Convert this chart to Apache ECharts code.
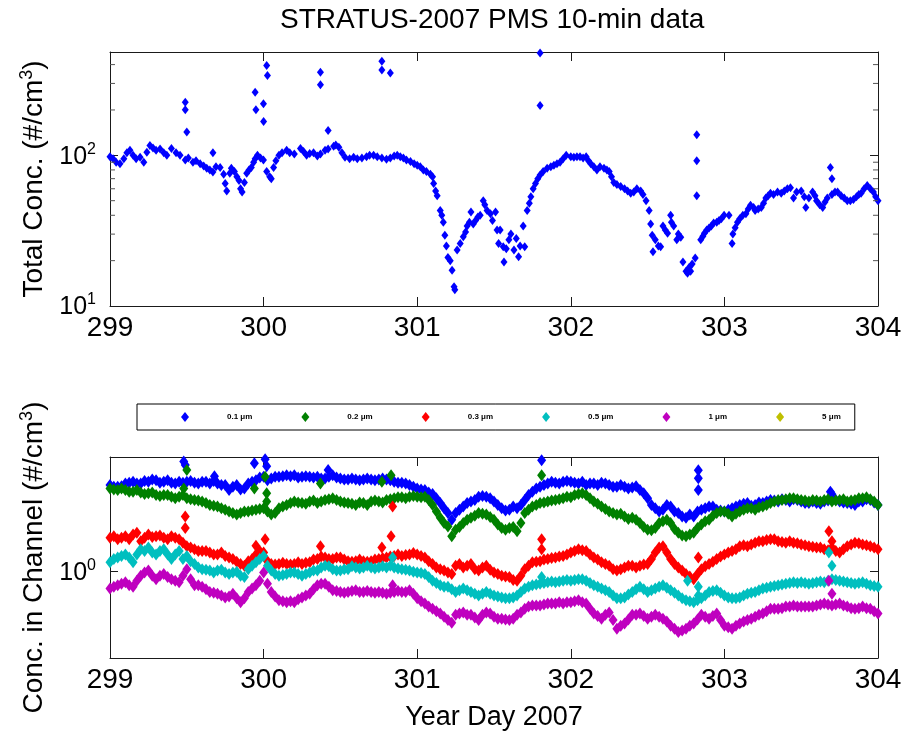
<!DOCTYPE html>
<html>
<head>
<meta charset="utf-8">
<title>STRATUS-2007 PMS 10-min data</title>
<script src="https://cdn.jsdelivr.net/npm/echarts@6/dist/echarts.min.js"></script>
<style>
    html, body {margin: 0; padding: 0; background: #fff;}
    #main {width: 905px; height: 732px;}
</style>
</head>
<body>
<div id="main"></div>
<script>
/* 上图 - total concentration, main band */
const topDays = [
    299.00, 299.02, 299.04, 299.065, 299.09, 299.11, 299.13, 299.15, 299.17, 299.196,
    299.22, 299.24, 299.26, 299.28, 299.30, 299.326, 299.35, 299.37, 299.40, 299.43,
    299.456, 299.49, 299.51, 299.54, 299.56, 299.587, 299.61, 299.63, 299.65, 299.67,
    299.69, 299.717, 299.74, 299.75, 299.76, 299.78, 299.79, 299.81, 299.826, 299.84,
    299.85, 299.86, 299.875, 299.89, 299.905, 299.92, 299.935, 299.945, 299.96, 299.98,
    299.999, 300.02, 300.04, 300.05, 300.065, 300.08, 300.10, 300.12, 300.15, 300.17,
    300.20, 300.24, 300.26, 300.28, 300.30, 300.325, 300.35, 300.37, 300.40, 300.42,
    300.456, 300.47, 300.49, 300.51, 300.53, 300.56, 300.586, 300.61, 300.64, 300.67,
    300.69, 300.716, 300.74, 300.77, 300.80, 300.825, 300.85, 300.87, 300.89, 300.91,
    300.93, 300.956, 300.98, 301.00, 301.02, 301.04, 301.06, 301.086, 301.10, 301.107,
    301.12, 301.13, 301.15, 301.16, 301.17, 301.18, 301.19, 301.20, 301.215, 301.227,
    301.24, 301.245, 301.26, 301.28, 301.30, 301.315, 301.325, 301.34, 301.35, 301.365,
    301.38, 301.395, 301.41, 301.43, 301.44, 301.455, 301.477, 301.49, 301.51, 301.52,
    301.53, 301.54, 301.56, 301.565, 301.58, 301.597, 301.61, 301.63, 301.645, 301.66,
    301.67, 301.69, 301.70, 301.716, 301.73, 301.74, 301.755, 301.77, 301.785, 301.80,
    301.82, 301.846, 301.87, 301.89, 301.91, 301.93, 301.95, 301.97, 302.00, 302.02,
    302.04, 302.06, 302.08, 302.10, 302.115, 302.13, 302.15, 302.17, 302.19, 302.216,
    302.235, 302.25, 302.265, 302.28, 302.30, 302.325, 302.35, 302.37, 302.39, 302.41,
    302.43, 302.455, 302.47, 302.49, 302.51, 302.52, 302.53, 302.535, 302.55, 302.57,
    302.585, 302.60, 302.615, 302.63, 302.65, 302.655, 302.67, 302.69, 302.70, 302.716,
    302.73, 302.75, 302.76, 302.77, 302.78, 302.79, 302.81, 302.846, 302.86, 302.87,
    302.885, 302.90, 302.915, 302.93, 302.95, 302.965, 302.98, 302.998, 303.03, 303.05,
    303.055, 303.07, 303.085, 303.10, 303.12, 303.14, 303.155, 303.17, 303.19, 303.20,
    303.22, 303.24, 303.255, 303.27, 303.285, 303.30, 303.32, 303.346, 303.37, 303.39,
    303.41, 303.43, 303.45, 303.47, 303.50, 303.52, 303.53, 303.55, 303.574, 303.59,
    303.60, 303.62, 303.64, 303.655, 303.67, 303.70, 303.72, 303.737, 303.76, 303.78,
    303.80, 303.82, 303.84, 303.86, 303.875, 303.89, 303.91, 303.93, 303.95, 303.97,
    303.985, 304.00
]
const topConc = [
    98, 95, 90, 88, 95, 104, 108, 100, 95, 97,
    90, 105, 116, 112, 108, 110, 104, 100, 111, 104,
    100, 93, 96, 90, 92, 88, 85, 82, 80, 77.6,
    84, 83, 75, 65, 58, 76, 82, 78, 72, 68,
    60, 57, 66, 76, 80, 83, 90, 95, 100, 96,
    93, 78, 72, 70, 83, 92, 100, 104, 108, 104,
    102, 111, 106, 100, 103, 104, 99, 102, 108, 110,
    115, 117, 113, 104, 97, 95, 97, 95, 96, 98,
    100, 100, 98, 96, 94, 96, 99, 100, 98, 96,
    93, 91, 88, 86, 84, 80, 78, 75, 72, 65,
    58, 54, 43, 40, 36, 29.5, 25, 21, 20, 17.3,
    13.4, 12.8, 23.5, 26, 28.8, 31, 34, 36, 42, 35,
    37, 39, 40, 50, 47, 43, 41, 37, 42, 32,
    26, 32, 24.7, 19.6, 24, 27.5, 30, 23.5, 28, 21.2,
    25, 34, 24.7, 43, 48, 53, 60, 65, 70, 74,
    78, 82, 84, 86, 88, 90, 95, 100, 98, 97,
    98, 98, 96, 98, 92, 88, 84, 80, 84, 82,
    80, 78, 72, 66, 64, 62, 60, 58, 56, 57,
    60, 58, 55, 50, 43, 35, 29.5, 22.9, 27.5, 25,
    24.7, 34, 32, 30.4, 40, 36, 34, 27.5, 30, 28.6,
    19.6, 17, 16.5, 18, 17, 19, 20.8, 27.5, 29, 30.4,
    32, 32.9, 34, 35.5, 36, 37, 38, 40, 40, 26,
    30, 33, 36, 38, 40, 41, 44, 46.6, 45, 43,
    44, 45, 48, 52, 54, 56, 55, 57, 56, 58,
    60, 61, 52, 57, 58, 53, 45, 52, 57, 54,
    50, 47, 45, 49, 52, 55, 57, 57, 54, 52,
    50, 50, 51, 53, 55, 56, 60, 63, 60, 57,
    53, 50
]
/* 上图 - isolated spikes */
const topSpikeDays = [299.49, 299.49, 299.50, 299.67, 299.945, 299.95, 299.999, 300.0, 300.02, 300.025,
    300.37, 300.37, 300.42, 300.77, 300.77, 300.825, 301.80, 301.80, 302.82, 302.82, 302.82, 303.69, 303.70]
const topSpikeConc = [225, 201, 143, 104, 262, 201, 220, 168, 394, 339,
    356, 294, 146, 421, 369, 352, 478, 214, 137, 92, 54, 83, 70]
const topMinorTicks = [20, 30, 40, 50, 60, 70, 80, 90, 200, 300, 400]

/* 下图 - concentration per channel, read every 0.05 day (299.00 ... 304.00) */
const chDays = Array.from({length: 101}, (v, i) => Math.round((299 + i * 0.05) * 1000) / 1000)
const ch01 = [
    3.87, 3.77, 3.97, 4.07, 3.97, 4.07, 4.18, 4.07, 4.01, 4.07,
    4.07, 4.01, 4.07, 3.97, 3.97, 3.87, 3.77, 3.61, 3.97, 4.18,
    4.40, 4.29, 4.40, 4.52, 4.52, 4.40, 4.40, 4.40, 4.29, 4.52,
    4.29, 4.22, 4.22, 4.22, 4.22, 4.22, 4.22, 4.07, 4.01, 3.87,
    3.67, 3.58, 3.37, 2.92, 2.50, 2.50, 2.77, 2.99, 3.23, 3.23,
    2.99, 2.70, 2.63, 2.70, 3.07, 3.49, 3.77, 3.97, 4.01, 4.07,
    4.07, 3.97, 3.87, 3.97, 4.01, 3.87, 3.77, 3.77, 3.72, 3.58,
    3.15, 2.70, 2.63, 2.77, 2.50, 2.32, 2.37, 2.63, 2.77, 2.63,
    2.56, 2.70, 2.84, 2.92, 2.84, 2.92, 3.07, 2.99, 3.07, 3.10,
    2.99, 2.92, 2.92, 2.99, 3.07, 2.99, 2.92, 2.84, 2.99, 3.07,
    2.84
]
const ch02 = [
    3.67, 3.58, 3.58, 3.49, 3.44, 3.40, 3.32, 3.32, 3.23, 3.23,
    3.15, 3.07, 2.99, 2.84, 2.77, 2.63, 2.50, 2.50, 2.56, 2.63,
    2.70, 2.44, 2.70, 2.84, 2.99, 2.92, 2.99, 2.92, 3.07, 3.15,
    2.99, 2.92, 2.84, 2.92, 2.99, 2.99, 3.07, 3.15, 3.20, 3.23,
    3.23, 3.23, 2.84, 2.32, 2.03, 1.93, 2.14, 2.32, 2.50, 2.44,
    2.25, 1.98, 1.98, 1.88, 2.50, 2.77, 2.92, 2.99, 3.07, 3.15,
    3.20, 3.37, 3.32, 2.99, 2.77, 2.56, 2.44, 2.37, 2.32, 2.14,
    1.93, 1.98, 2.20, 2.14, 1.84, 1.74, 1.84, 2.09, 2.25, 2.50,
    2.56, 2.37, 2.56, 2.70, 2.63, 2.77, 2.92, 3.07, 3.10, 3.15,
    3.07, 2.99, 3.04, 3.07, 2.99, 3.07, 2.99, 3.07, 3.15, 3.10,
    2.84
]
const ch03 = [
    1.70, 1.66, 1.74, 1.79, 1.61, 1.79, 1.74, 1.70, 1.74, 1.66,
    1.49, 1.42, 1.38, 1.35, 1.31, 1.28, 1.22, 1.13, 1.18, 1.31,
    1.35, 1.13, 1.13, 1.13, 1.13, 1.13, 1.16, 1.22, 1.25, 1.22,
    1.25, 1.18, 1.18, 1.18, 1.18, 1.22, 1.25, 1.28, 1.28, 1.31,
    1.31, 1.25, 1.13, 1.04, 0.99, 1.10, 1.07, 1.13, 1.02, 1.10,
    0.99, 0.94, 0.92, 0.87, 1.04, 1.16, 1.18, 1.22, 1.25, 1.28,
    1.35, 1.42, 1.38, 1.25, 1.16, 1.10, 1.02, 1.07, 1.10, 1.10,
    1.13, 1.35, 1.49, 1.22, 1.07, 0.965, 0.89, 1.04, 1.13, 1.22,
    1.31, 1.38, 1.49, 1.49, 1.57, 1.61, 1.66, 1.61, 1.57, 1.57,
    1.53, 1.49, 1.46, 1.42, 1.46, 1.35, 1.49, 1.57, 1.53, 1.49,
    1.42
]
const ch05 = [
    1.16, 1.25, 1.31, 1.16, 1.42, 1.46, 1.31, 1.42, 1.22, 1.38,
    1.28, 1.13, 1.04, 1.02, 1.02, 0.99, 0.99, 0.94, 1.04, 1.16,
    1.28, 1.02, 0.94, 0.965, 0.99, 0.94, 0.99, 1.02, 1.10, 1.04,
    1.02, 1.04, 1.07, 1.07, 1.07, 1.07, 1.07, 1.07, 1.04, 1.02,
    0.99, 0.965, 0.87, 0.81, 0.79, 0.73, 0.77, 0.73, 0.69, 0.73,
    0.69, 0.67, 0.66, 0.69, 0.77, 0.81, 0.83, 0.85, 0.85, 0.87,
    0.87, 0.89, 0.87, 0.81, 0.77, 0.73, 0.66, 0.67, 0.73, 0.79,
    0.73, 0.77, 0.81, 0.75, 0.69, 0.64, 0.62, 0.66, 0.73, 0.75,
    0.69, 0.66, 0.67, 0.71, 0.73, 0.77, 0.79, 0.81, 0.83, 0.85,
    0.85, 0.83, 0.85, 0.85, 0.89, 0.87, 0.85, 0.83, 0.85, 0.81,
    0.79
]
const ch1 = [
    0.77, 0.81, 0.85, 0.79, 0.94, 1.02, 0.89, 0.965, 0.89, 0.85,
    1.04, 0.81, 0.79, 0.73, 0.71, 0.67, 0.71, 0.62, 0.73, 0.81,
    0.99, 0.73, 0.64, 0.62, 0.62, 0.67, 0.71, 0.81, 0.83, 0.75,
    0.73, 0.73, 0.75, 0.73, 0.73, 0.73, 0.71, 0.73, 0.73, 0.75,
    0.66, 0.61, 0.56, 0.52, 0.47, 0.51, 0.53, 0.51, 0.47, 0.53,
    0.495, 0.48, 0.47, 0.51, 0.56, 0.59, 0.59, 0.61, 0.61, 0.61,
    0.62, 0.64, 0.61, 0.52, 0.48, 0.53, 0.41, 0.446, 0.51, 0.52,
    0.48, 0.51, 0.48, 0.43, 0.39, 0.41, 0.446, 0.51, 0.48, 0.52,
    0.43, 0.41, 0.446, 0.47, 0.495, 0.52, 0.56, 0.56, 0.58, 0.59,
    0.58, 0.58, 0.59, 0.61, 0.59, 0.61, 0.58, 0.56, 0.58, 0.56,
    0.52
]
const ch5 = []

/* 下图 - second reading, between the points above (299.025 ... 303.975) */
const chDaysMid = Array.from({length: 100}, (v, i) => Math.round((299.025 + i * 0.05) * 1000) / 1000)
const ch01Mid = [
    3.77, 3.80, 4.01, 3.97, 4.13, 4.22, 4.01, 4.18, 3.97, 4.01,
    4.13, 3.97, 4.07, 4.13, 3.87, 3.58, 3.87, 3.67, 4.07, 4.36,
    4.18, 4.40, 4.45, 4.45, 4.36, 4.45, 4.36, 4.29, 4.40, 4.36,
    4.22, 4.29, 4.18, 4.29, 4.18, 4.29, 4.18, 4.01, 3.97, 3.77,
    3.61, 3.44, 3.15, 2.70, 2.25, 2.63, 2.92, 3.07, 3.26, 3.15,
    2.84, 2.60, 2.77, 2.84, 3.32, 3.67, 3.87, 4.07, 3.97, 4.13,
    4.01, 4.07, 3.97, 3.87, 3.97, 3.77, 3.87, 3.67, 3.80, 3.40,
    2.84, 2.56, 2.84, 2.56, 2.37, 2.44, 2.56, 2.70, 2.77, 2.60,
    2.63, 2.77, 2.89, 2.80, 2.95, 2.99, 3.04, 3.10, 2.99, 3.07,
    2.92, 2.99, 2.89, 3.04, 3.07, 2.95, 2.89, 2.99, 3.10, 2.95
]
const ch02Mid = [
    3.61, 3.67, 3.49, 3.58, 3.37, 3.44, 3.26, 3.32, 3.15, 3.32,
    3.10, 3.04, 2.92, 2.80, 2.70, 2.56, 2.44, 2.56, 2.60, 2.66,
    2.56, 2.50, 2.77, 2.92, 2.95, 2.89, 3.04, 2.99, 3.10, 3.07,
    2.95, 2.89, 2.95, 2.84, 3.04, 2.95, 3.10, 3.20, 3.15, 3.26,
    3.20, 3.07, 2.56, 2.14, 1.74, 2.01, 2.25, 2.40, 2.47, 2.35,
    2.09, 1.93, 2.01, 2.14, 2.63, 2.84, 2.95, 3.04, 3.10, 3.23,
    3.32, 3.40, 3.15, 2.89, 2.66, 2.50, 2.47, 2.28, 2.25, 2.01,
    1.91, 2.14, 2.25, 1.95, 1.76, 1.79, 1.98, 2.20, 2.40, 2.56,
    2.47, 2.47, 2.63, 2.70, 2.74, 2.84, 2.99, 3.07, 3.15, 3.10,
    3.04, 3.07, 2.99, 3.10, 3.04, 3.10, 3.04, 3.15, 3.20, 2.99
]
const ch03Mid = [
    1.74, 1.70, 1.66, 1.84, 1.70, 1.72, 1.76, 1.66, 1.70, 1.57,
    1.46, 1.38, 1.38, 1.31, 1.35, 1.25, 1.17, 1.10, 1.22, 1.38,
    1.18, 1.12, 1.15, 1.12, 1.16, 1.15, 1.21, 1.27, 1.22, 1.25,
    1.21, 1.17, 1.21, 1.17, 1.21, 1.24, 1.27, 1.31, 1.30, 1.34,
    1.28, 1.18, 1.07, 1.02, 0.965, 1.13, 1.10, 1.04, 1.07, 1.03,
    0.965, 0.93, 0.88, 0.94, 1.10, 1.17, 1.21, 1.24, 1.27, 1.31,
    1.38, 1.40, 1.31, 1.21, 1.13, 1.04, 1.04, 1.10, 1.07, 1.12,
    1.22, 1.46, 1.35, 1.13, 1.02, 0.93, 0.965, 1.09, 1.17, 1.27,
    1.35, 1.42, 1.51, 1.53, 1.61, 1.64, 1.66, 1.59, 1.61, 1.56,
    1.51, 1.48, 1.46, 1.40, 1.38, 1.42, 1.53, 1.56, 1.51, 1.46
]
const ch05Mid = [
    1.22, 1.28, 1.25, 1.31, 1.38, 1.35, 1.38, 1.31, 1.31, 1.22,
    1.18, 1.07, 1.03, 0.99, 1.03, 0.965, 1.00, 0.92, 1.10, 1.22,
    1.10, 0.965, 0.95, 0.99, 0.965, 0.965, 1.02, 1.07, 1.09, 1.02,
    1.04, 1.09, 1.05, 1.10, 1.05, 1.09, 1.10, 1.05, 1.03, 1.00,
    0.98, 0.92, 0.84, 0.79, 0.76, 0.75, 0.75, 0.71, 0.71, 0.71,
    0.68, 0.66, 0.67, 0.73, 0.79, 0.82, 0.84, 0.86, 0.86, 0.88,
    0.88, 0.89, 0.84, 0.79, 0.75, 0.69, 0.66, 0.70, 0.76, 0.76,
    0.75, 0.79, 0.78, 0.72, 0.66, 0.63, 0.64, 0.69, 0.74, 0.72,
    0.67, 0.66, 0.69, 0.72, 0.75, 0.78, 0.80, 0.82, 0.84, 0.84,
    0.84, 0.84, 0.86, 0.87, 0.88, 0.86, 0.84, 0.84, 0.83, 0.80
]
const ch1Mid = [
    0.79, 0.83, 0.81, 0.87, 0.99, 0.94, 0.94, 0.92, 0.87, 0.94,
    0.89, 0.81, 0.76, 0.72, 0.69, 0.68, 0.66, 0.66, 0.77, 0.87,
    0.83, 0.68, 0.63, 0.63, 0.65, 0.69, 0.76, 0.83, 0.79, 0.74,
    0.72, 0.74, 0.73, 0.74, 0.72, 0.72, 0.72, 0.74, 0.73, 0.71,
    0.63, 0.58, 0.54, 0.495, 0.45, 0.52, 0.51, 0.49, 0.51, 0.52,
    0.48, 0.475, 0.48, 0.53, 0.58, 0.59, 0.60, 0.61, 0.62, 0.62,
    0.63, 0.62, 0.56, 0.50, 0.51, 0.47, 0.43, 0.475, 0.51, 0.50,
    0.495, 0.495, 0.46, 0.41, 0.40, 0.43, 0.475, 0.495, 0.50, 0.47,
    0.42, 0.43, 0.46, 0.48, 0.51, 0.54, 0.56, 0.565, 0.58, 0.58,
    0.58, 0.58, 0.60, 0.60, 0.60, 0.59, 0.565, 0.565, 0.565, 0.54
]
/* 下图 - isolated spikes, [day, value] */
const spike01 = [[299.48, 5.6], [299.49, 5.3], [299.68, 4.45], [299.94, 5.45], [300.01, 5.8], [300.02, 5.2],
    [300.42, 4.9], [301.81, 5.7], [302.83, 4.88], [302.83, 4.3], [302.83, 3.58], [303.69, 3.49], [303.70, 3.35]]
const spike02 = [[299.48, 3.67], [299.50, 4.9], [299.94, 3.67], [300.01, 4.4], [300.02, 3.4], [300.02, 2.99],
    [300.37, 3.97], [300.77, 4.07], [300.83, 4.52], [301.81, 4.52]]
const spike03 = [[299.49, 2.37], [299.49, 1.98], [299.95, 1.5], [300.01, 1.66], [300.37, 1.49], [300.77, 1.46],
    [300.83, 1.74], [300.84, 2.77], [301.81, 1.66], [301.81, 1.42], [302.83, 1.25], [303.68, 1.88], [303.70, 1.61]]
const spike05 = [[300.84, 1.25], [301.81, 0.92], [302.76, 0.87], [302.83, 0.79], [302.83, 0.69], [303.68, 1.35], [303.70, 1.10]]
const spike1 = [[300.84, 0.81], [303.68, 0.87], [303.70, 0.71]]

const chNames = ['0.1 μm', '0.2 μm', '0.3 μm', '0.5 μm', '1 μm', '5 μm']
const chColors = ['#0000ff', '#008000', '#ff0000', '#00bfbf', '#bf00bf', '#bfbf00']
const xTicks = [299, 300, 301, 302, 303, 304]

const FONT = 'Liberation Sans, Arial, Helvetica, sans-serif'
const AXIS_COLOR = '#1a1a1a'

var chartMethods = {
    init() {
        let myChart = echarts.init(document.getElementById('main'))
        myChart.setOption(chartMethods.buildOption())
    },
    zip(days, vals) {
        return days.map((d, i) => [d, vals[i]])
    },
    /*10^n 标签*/
    powLabel(v) {
        let e = Math.log10(v)
        if (Math.abs(e - Math.round(e)) > 1e-6) return ''
        return '{b|10}{s|' + Math.round(e) + '}'
    },
    xAxisOf(gridIndex, position, showLabel) {
        return {
            type: 'value', gridIndex: gridIndex, position: position,
            min: xTicks[0], max: xTicks[xTicks.length - 1], interval: 1,
            splitLine: {show: false},
            axisLine: {show: true, onZero: false, lineStyle: {color: AXIS_COLOR, width: 1}},
            axisTick: {show: true, inside: true, length: 9, lineStyle: {color: AXIS_COLOR}},
            axisLabel: {show: showLabel, color: '#000', fontFamily: FONT, fontSize: 28, margin: 8}
        }
    },
    yAxisOf(gridIndex, position, min, max, showLabel) {
        return {
            type: 'log', logBase: 10, gridIndex: gridIndex, position: position,
            min: min, max: max,
            splitLine: {show: false},
            axisLine: {show: true, lineStyle: {color: AXIS_COLOR, width: 1}},
            axisTick: {show: true, inside: true, length: 8, lineStyle: {color: AXIS_COLOR}},
            axisLabel: {
                show: showLabel, margin: 14, formatter: chartMethods.powLabel,
                rich: {
                    b: {fontFamily: FONT, fontSize: 25, color: '#000', verticalAlign: 'bottom'},
                    s: {fontFamily: FONT, fontSize: 16, color: '#000', padding: [0, 0, 12, 0]}
                }
            }
        }
    },
    nameStyle(size) {
        return {
            rich: {
                a: {fontFamily: FONT, fontSize: size, color: '#000', verticalAlign: 'bottom'},
                s: {fontFamily: FONT, fontSize: Math.round(size * 0.65), color: '#000', padding: [0, 0, 12, 0]}
            }
        }
    },
    buildOption() {
        let channels = [ch01, ch02, ch03, ch05, ch1, ch5]
        let channelsMid = [ch01Mid, ch02Mid, ch03Mid, ch05Mid, ch1Mid, []]
        let spikes = [spike01, spike02, spike03, spike05, spike1, []]
        let top = chartMethods.zip(topDays, topConc).concat(chartMethods.zip(topSpikeDays, topSpikeConc))

        let xAxis = [
            chartMethods.xAxisOf(0, 'bottom', true),
            chartMethods.xAxisOf(0, 'top', false),
            Object.assign(chartMethods.xAxisOf(1, 'bottom', true), {
                name: 'Year Day 2007', nameLocation: 'middle', nameGap: 46,
                nameTextStyle: {fontFamily: FONT, fontSize: 27, color: '#000'}
            }),
            chartMethods.xAxisOf(1, 'top', false)
        ]
        let yAxis = [
            Object.assign(chartMethods.yAxisOf(0, 'left', 10, 485, true), {
                name: '{a|Total Conc. (#/cm}{s|3}{a|)}', nameLocation: 'middle', nameGap: 62,
                nameTextStyle: chartMethods.nameStyle(28)
            }),
            chartMethods.yAxisOf(0, 'right', 10, 485, false),
            Object.assign(chartMethods.yAxisOf(1, 'left', 0.26, 6, true), {
                name: '{a|Conc. in Channel (#/cm}{s|3}{a|)}', nameLocation: 'middle', nameGap: 62,
                nameTextStyle: chartMethods.nameStyle(28)
            }),
            chartMethods.yAxisOf(1, 'right', 0.26, 6, false)
        ]

        let series = [{
            name: 'total', type: 'scatter', xAxisIndex: 0, yAxisIndex: 0,
            symbol: 'diamond', symbolSize: [7, 9],
            itemStyle: {color: chColors[0], opacity: 1}, data: top, z: 3
        }, {
            /*对数轴次刻度*/
            type: 'custom', xAxisIndex: 0, yAxisIndex: 0, silent: true, z: 4,
            data: topMinorTicks.map(v => [xTicks[0], v]),
            encode: {x: 0, y: 1},
            renderItem(params, api) {
                let v = api.value(1)
                let l = api.coord([xTicks[0], v])
                let r = api.coord([xTicks[xTicks.length - 1], v])
                let style = {stroke: '#555', lineWidth: 1}
                return {
                    type: 'group',
                    children: [
                        {type: 'line', shape: {x1: l[0], y1: l[1], x2: l[0] + 5, y2: l[1]}, style: style},
                        {type: 'line', shape: {x1: r[0] - 5, y1: r[1], x2: r[0], y2: r[1]}, style: style}
                    ]
                }
            }
        }]
        for (let i = 0; i < chNames.length; i++) {
            let data = []
            if (channels[i].length) {
                data = chartMethods.zip(chDays, channels[i])
                    .concat(chartMethods.zip(chDaysMid, channelsMid[i]))
                    .concat(spikes[i])
            }
            series.push({
                name: chNames[i], type: 'scatter', xAxisIndex: 2, yAxisIndex: 2,
                symbol: 'diamond', symbolSize: [9, 12],
                itemStyle: {color: chColors[i], opacity: 1},
                data: data
            })
        }

        return {
            backgroundColor: '#fff',
            animation: false,
            title: {
                text: 'STRATUS-2007 PMS 10-min data', left: 280, top: 6, padding: 0,
                textStyle: {fontFamily: FONT, fontSize: 28, fontWeight: 'normal', color: '#000'}
            },
            legend: {
                data: chNames, left: 137, top: 404, orient: 'horizontal',
                padding: [7, 14, 7, 44], itemGap: 49, itemWidth: 8, itemHeight: 10,
                borderColor: '#000', borderWidth: 1, selectedMode: false,
                formatter: name => '{g|}{t|' + name + '}',
                textStyle: {
                    rich: {
                        g: {width: 33},
                        t: {fontFamily: FONT, fontSize: 8, fontWeight: 'bold', color: '#000', width: 27}
                    }
                }
            },
            grid: [
                {left: 110, right: 27, top: 52, height: 254},
                {left: 110, right: 27, top: 457, height: 203}
            ],
            xAxis: xAxis,
            yAxis: yAxis,
            series: series
        }
    }
}

chartMethods.init()
</script>
</body>
</html>
